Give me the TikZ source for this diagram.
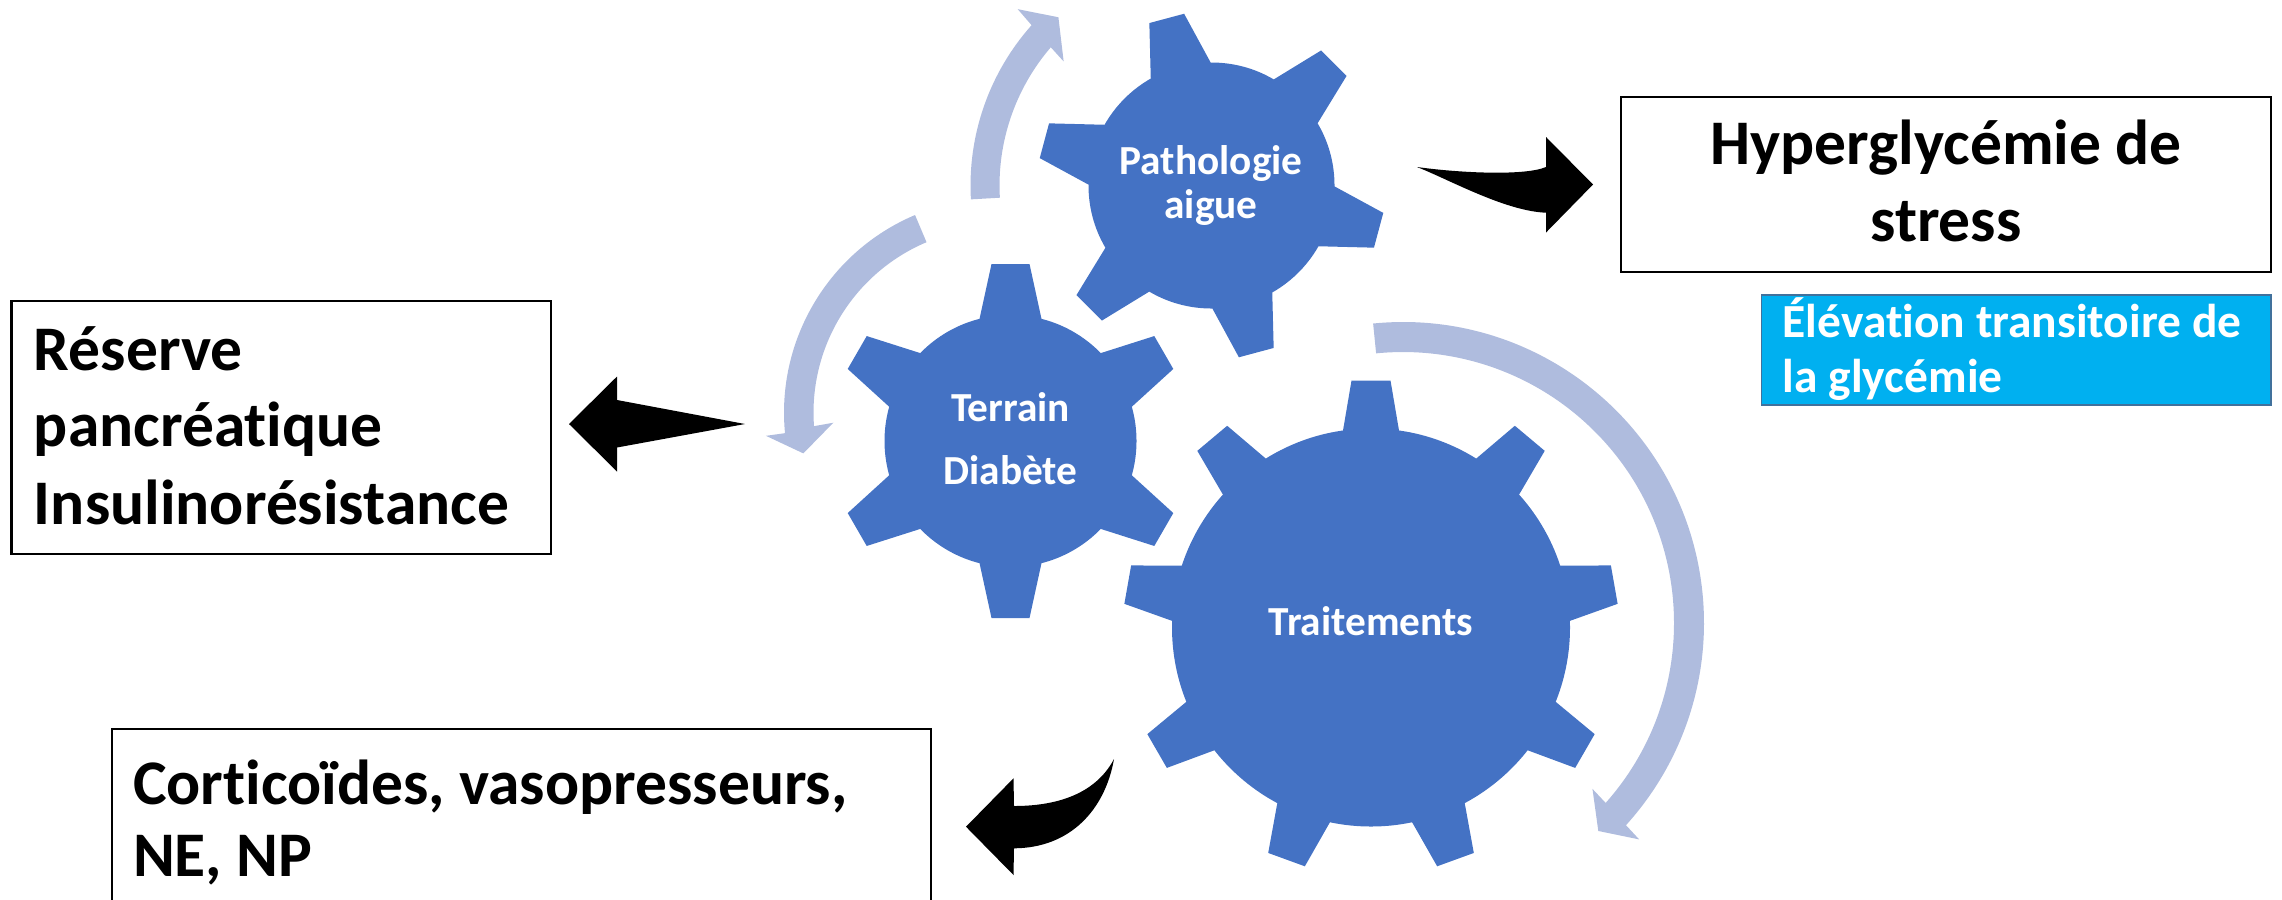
\documentclass[tikz,border=0pt]{standalone}
\usepackage{fontspec}
\setmainfont{Carlito}[Ligatures={NoCommon,NoContextual}]
\definecolor{gearblue}{HTML}{4472C4}
\definecolor{arcblue}{HTML}{AFBCDE}
\definecolor{cyanbox}{HTML}{00B0F0}
\definecolor{cyanedge}{HTML}{41719C}
\newcommand{\gearfill}[7]{%
  \fill[gearblue] (#1) circle[radius=#2];
  \foreach \k in {1,...,#6}{%
    \fill[gearblue, shift={(#1)}, rotate={#7+360/#6*\k}] (0,0) -- ({-asin(#4/#2)}:#2) -- (#3,-#5) -- (#3,#5) -- ({asin(#4/#2)}:#2) -- cycle;
  }%
}
\begin{document}
\begin{tikzpicture}[x=0.01cm,y=0.01cm,
  box/.style={draw=black, line width=0.02cm, fill=white, rectangle, inner sep=0pt, outer sep=0pt, anchor=north west},
  bluebox/.style={draw=cyanedge, line width=0.015cm, fill=cyanbox, rectangle, inner sep=0pt, outer sep=0pt, anchor=north west},
  bigtxt/.style={font=\fontsize{18.07}{21.7}\selectfont\bfseries, inner sep=0pt, outer sep=0pt},
  bluetxt/.style={font=\fontsize{13.5}{16}\selectfont\bfseries, text=white, inner sep=0pt, outer sep=0pt, anchor=base west},
  geartxt/.style={font=\fontsize{11.75}{14}\selectfont\bfseries, text=white, inner sep=0pt, outer sep=0pt, anchor=base},
  arcarrow/.style={fill=arcblue},
  blkarrow/.style={fill=black},
]
\useasboundingbox (0,0) rectangle (2282,-899);
\clip (0,0) rectangle (2282,-899);

% ---------- circular light arrows ----------
\begin{scope}[shift={(1211.5,-185.5)}]
  \fill[arcarrow] (183.3:241) arc[start angle=183.3, end angle=138.3, radius=241]
    -- (137.7:262) -- (132.3:227.5) -- (140:193) -- (139.3:212)
    arc[start angle=139.3, end angle=183.3, radius=212] -- cycle;
\end{scope}
\begin{scope}[shift={(998.5,-412.6)}]
  \fill[arcarrow] (112.9:214.5) arc[start angle=112.9, end angle=185.5, radius=214.5]
    -- (185.7:233.7) -- (191.8:199.4) -- (183.5:165.5) -- (184.2:185)
    arc[start angle=184.2, end angle=112.9, radius=185] -- cycle;
\end{scope}
\begin{scope}[shift={(1403,-623)}]
  \fill[arcarrow] (95.7:301) arc[start angle=95.7, end angle=-42.2, radius=301]
    -- (-42.5:320.3) -- (-46.8:285.3) -- (-41.2:251.8) -- (-41.6:271)
    arc[start angle=-41.6, end angle=95.7, radius=271] -- cycle;
\end{scope}

% ---------- gears ----------
\gearfill{1211.5,-185.5}{123}{173}{31}{18}{6}{45}
\gearfill{1010.5,-441}{126}{177}{31}{19}{6}{30}
\gearfill{1371,-627.5}{199}{247}{28}{19.5}{9}{10}

\node[geartxt] (g1a) at (1211,-174) {Pathologie};
\node[geartxt] (g1b) at (1211,-218.3) {aigue};
\node[geartxt] (g2a) at (1010.5,-421) {Terrain};
\node[geartxt] (g2b) at (1010.5,-484.5) {Diabète};
\node[geartxt] (g3a) at (1371,-635) {Traitements};

% ---------- boxes ----------
\node[box, minimum width=5.387cm, minimum height=2.533cm] (B1) at (11.5,-300.7) {};
\node[box, minimum width=6.497cm, minimum height=1.75cm] (B2) at (1621,-97.3) {};
\node[bluebox, minimum width=5.092cm, minimum height=1.10cm] (B3) at (1761.5,-295) {};
\node[box, minimum width=8.185cm, minimum height=1.9cm] (B4) at (112,-729.3) {};

\node[bigtxt, anchor=base west] (t1a) at (34,-370) {Réserve};
\node[bigtxt, anchor=base west] (t1b) at (34,-446.5) {pancréatique};
\node[bigtxt, anchor=base west] (t1c) at (34,-524.5) {Insulinorésistance};

\node[bigtxt, anchor=base] (t2a) at (1946,-164.5) {Hyperglycémie de};
\node[bigtxt, anchor=base] (t2b) at (1946,-241) {stress};

\node[bluetxt] (t3a) at (1782.8,-337.5) {Élévation transitoire de};
\node[bluetxt] (t3b) at (1782.8,-392.5) {la glycémie};

\node[bigtxt, anchor=base west] (t4a) at (133,-804) {Corticoïdes, vasopresseurs,};
\node[bigtxt, anchor=base west] (t4b) at (133,-876) {NE, NP};

% ---------- black block arrows ----------
\coordinate (la-tip) at (569,-424);
\coordinate (la-tail) at (745,-424);
\fill[blkarrow] (la-tip) -- (617,-376.5) -- (617,-400) -- (la-tail) -- (617,-447.5) -- (617,-471.5) -- cycle;

\coordinate (ra-tail) at (1417,-167);
\coordinate (ra-tip) at (1593,-184.5);
\fill[blkarrow] (ra-tail) .. controls (1460,-173) and (1525,-176) .. (1546,-167)
  -- (1546,-137) -- (ra-tip) -- (1546,-232.5) -- (1546,-212.7)
  .. controls (1505,-211) and (1450,-180) .. (ra-tail) -- cycle;

\coordinate (ba-tail) at (1114,-759);
\coordinate (ba-tip) at (966,-826.7);
\fill[blkarrow] (ba-tail) .. controls (1095,-795) and (1055,-806) .. (1014,-806)
  -- (1013.5,-778.3) -- (ba-tip) -- (1013.5,-875) -- (1014,-848.3)
  .. controls (1070,-848) and (1105,-810) .. (ba-tail) -- cycle;
\end{tikzpicture}
\end{document}
